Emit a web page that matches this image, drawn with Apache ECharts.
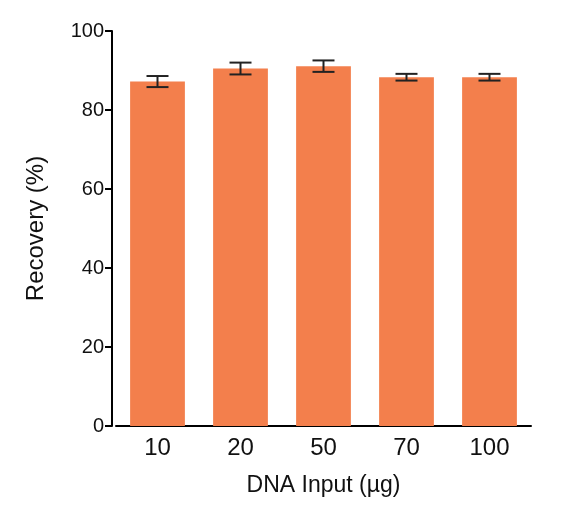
<!DOCTYPE html>
<html>
<head>
<meta charset="UTF-8">
<script src="https://cdn.jsdelivr.net/npm/echarts@6/dist/echarts.min.js"></script>
</head>
<body style="margin:0;">
<div id="container" style="width:564px;height:525px;"></div>
<script>
var categories = ['10', '20', '50', '70', '100'];
var recovery = [87.2, 90.5, 91.1, 88.3, 88.3];
var errors = [1.4, 1.5, 1.45, 0.85, 0.85];

var chart = echarts.init(document.getElementById('container'));
var font = 'Liberation Sans';
chart.setOption({
  animation: false,
  grid: { left: 116, right: 33, top: 31, bottom: 99 },
  xAxis: {
    type: 'category', data: categories,
    name: 'DNA Input (\u00b5g)', nameLocation: 'middle', nameGap: 48,
    nameTextStyle: { fontSize: 23, color: '#111', fontFamily: font },
    axisLine: { lineStyle: { color: '#000', width: 2 } },
    axisTick: { show: false },
    axisLabel: { fontSize: 24, color: '#111', fontFamily: font, margin: 10 }
  },
  yAxis: {
    type: 'value', min: 0, max: 100, interval: 20, offset: 4,
    name: 'Recovery (%)', nameLocation: 'middle', nameGap: 64,
    nameTextStyle: { fontSize: 24, color: '#111', fontFamily: font },
    splitLine: { show: false },
    axisLine: { show: true, lineStyle: { color: '#000', width: 2 } },
    axisTick: { show: true, length: 7, lineStyle: { color: '#000', width: 2 } },
    axisLabel: { fontSize: 20, color: '#111', fontFamily: font, margin: 8 }
  },
  series: [
    {
      type: 'bar', data: recovery, barWidth: '66%',
      itemStyle: { color: '#F37F4C' }
    },
    {
      type: 'custom',
      data: recovery.map(function (v, i) { return [i, v - errors[i], v + errors[i]]; }),
      renderItem: function (params, api) {
        var lo = api.coord([api.value(0), api.value(1)]);
        var hi = api.coord([api.value(0), api.value(2)]);
        var w = 11;
        var st = { stroke: '#222', lineWidth: 2 };
        return { type: 'group', children: [
          { type: 'line', shape: { x1: hi[0], y1: hi[1], x2: lo[0], y2: lo[1] }, style: st },
          { type: 'line', shape: { x1: hi[0] - w, y1: hi[1], x2: hi[0] + w, y2: hi[1] }, style: st },
          { type: 'line', shape: { x1: lo[0] - w, y1: lo[1], x2: lo[0] + w, y2: lo[1] }, style: st }
        ] };
      },
      z: 10
    }
  ]
});
</script>
</body>
</html>
